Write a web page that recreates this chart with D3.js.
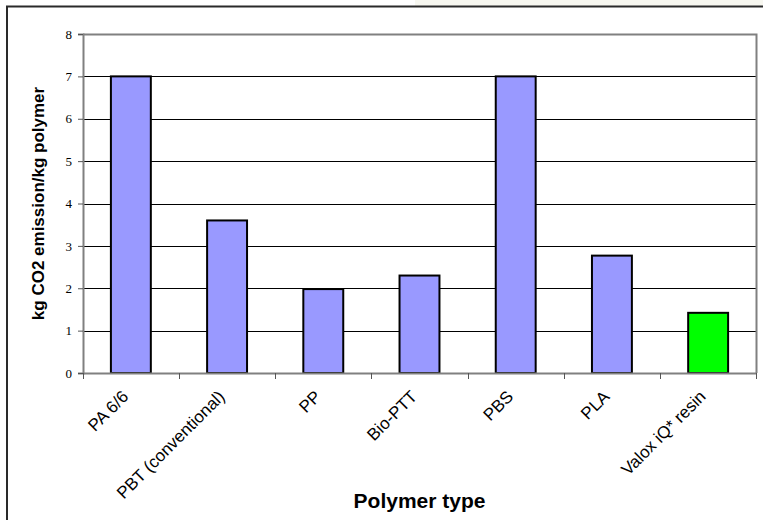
<!DOCTYPE html>
<html>
<head>
<meta charset="utf-8">
<script src="https://cdn.jsdelivr.net/npm/d3@7"></script>
<style>
  body { margin: 0; background: #fff; }
  svg { display: block; }
</style>
</head>
<body>
<div id="chart"></div>
<script>
// data
var categories = ["PA 6/6", "PBT (conventional)", "PP", "Bio-PTT", "PBS", "PLA", "Valox iQ* resin"];
var values = [7.0, 3.6, 1.98, 2.3, 7.0, 2.77, 1.42];
var barColors = ["#9999ff", "#9999ff", "#9999ff", "#9999ff", "#9999ff", "#9999ff", "#00ff00"];
var yTicks = [0, 1, 2, 3, 4, 5, 6, 7, 8];

var W = 763, H = 520;
var plot = {left: 83, top: 34, right: 756, bottom: 373};

var svg = d3.select("#chart").append("svg")
    .attr("width", W).attr("height", H);

// pale strip at the top right, outside the chart frame
svg.append("rect")
    .attr("x", 415).attr("y", 0).attr("width", W - 415).attr("height", 6)
    .attr("fill", "#f7f7f0");

// outer chart frame (runs off the right and bottom)
svg.append("rect")
    .attr("x", 7).attr("y", 6.5).attr("width", W + 20).attr("height", H + 20)
    .attr("fill", "none").attr("stroke", "#2a2a2a").attr("stroke-width", 2);

var x = d3.scaleBand()
    .domain(categories)
    .range([plot.left, plot.right])
    .paddingInner(0.585)
    .paddingOuter(0.29);

var y = d3.scaleLinear()
    .domain([0, 8])
    .range([plot.bottom, plot.top]);

// gridlines
svg.append("g").selectAll("line")
    .data(yTicks.filter(function(d) { return d > 0 && d < 8; }))
    .enter().append("line")
    .attr("x1", plot.left).attr("x2", plot.right)
    .attr("y1", function(d) { return Math.round(y(d)) + 0.5; })
    .attr("y2", function(d) { return Math.round(y(d)) + 0.5; })
    .attr("stroke", "#000").attr("stroke-width", 1);

// plot frame top + right (gray)
svg.append("path")
    .attr("d", "M" + plot.left + "," + (plot.top + 0.5) + "H" + (plot.right + 0.5) + "V" + plot.bottom)
    .attr("fill", "none").attr("stroke", "#808080").attr("stroke-width", 2);

// bars
svg.append("g").selectAll("rect")
    .data(values)
    .enter().append("rect")
    .attr("x", function(d, i) { return x(categories[i]); })
    .attr("y", function(d) { return y(d); })
    .attr("width", x.bandwidth())
    .attr("height", function(d) { return plot.bottom - y(d); })
    .attr("fill", function(d, i) { return barColors[i]; })
    .attr("stroke", "#000").attr("stroke-width", 2);

// y axis
var yAxis = svg.append("g")
    .attr("transform", "translate(" + plot.left + ",0)")
    .call(d3.axisLeft(y).tickValues(yTicks).tickSize(5).tickPadding(6).tickFormat(d3.format("d")));
yAxis.select(".domain").attr("stroke", "#808080").attr("stroke-width", 2);
yAxis.selectAll(".tick line").attr("stroke", "#555");
yAxis.selectAll("text")
    .attr("font-family", "'Liberation Serif', 'Times New Roman', serif")
    .attr("font-size", 13).attr("fill", "#000");

// x axis: ticks sit between categories
var xBoundaries = d3.range(categories.length + 1).map(function(i) { return plot.left + i * (plot.right - plot.left) / categories.length; });
svg.append("line")
    .attr("x1", plot.left).attr("x2", plot.right + 1)
    .attr("y1", plot.bottom + 0.5).attr("y2", plot.bottom + 0.5)
    .attr("stroke", "#808080").attr("stroke-width", 2);
svg.append("g").selectAll("line")
    .data(xBoundaries)
    .enter().append("line")
    .attr("x1", function(d) { return Math.round(d) + 0.5; })
    .attr("x2", function(d) { return Math.round(d) + 0.5; })
    .attr("y1", plot.bottom).attr("y2", plot.bottom + 6)
    .attr("stroke", "#555").attr("stroke-width", 1);

svg.append("g").selectAll("text")
    .data(categories)
    .enter().append("text")
    .attr("transform", function(d) {
        return "translate(" + (x(d) + x.bandwidth() / 2 - 10) + "," + (plot.bottom + 16) + ") rotate(-45)";
    })
    .attr("text-anchor", "end")
    .attr("dy", "0.72em")
    .attr("font-family", "Arial, 'Liberation Sans', sans-serif")
    .attr("font-size", 17)
    .attr("fill", "#000")
    .text(function(d) { return d; });

// axis titles
svg.append("text")
    .attr("transform", "translate(44," + ((plot.top + plot.bottom) / 2) + ") rotate(-90)")
    .attr("text-anchor", "middle")
    .attr("font-family", "Arial, 'Liberation Sans', sans-serif")
    .attr("font-weight", "bold")
    .attr("font-size", 17)
    .text("kg CO2 emission/kg polymer");

svg.append("text")
    .attr("x", (plot.left + plot.right) / 2)
    .attr("y", 508)
    .attr("text-anchor", "middle")
    .attr("font-family", "Arial, 'Liberation Sans', sans-serif")
    .attr("font-weight", "bold")
    .attr("font-size", 21)
    .text("Polymer type");
</script>
</body>
</html>
